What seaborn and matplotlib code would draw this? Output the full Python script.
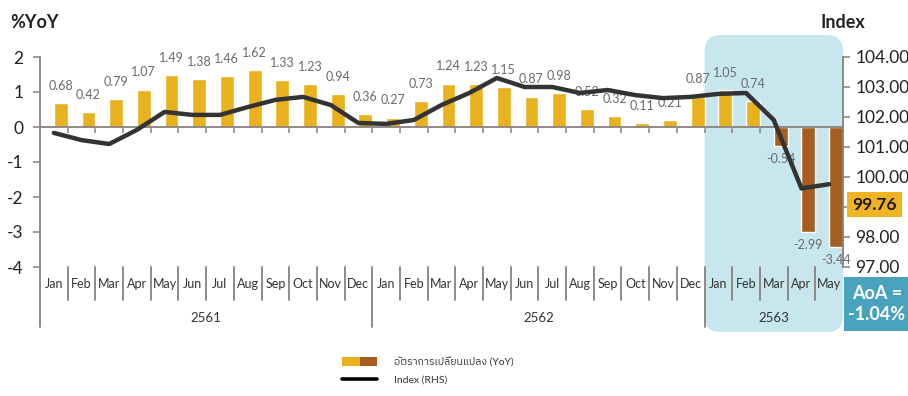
import numpy as np
import pandas as pd
import matplotlib
matplotlib.use("Agg")
import matplotlib.pyplot as plt
import seaborn as sns
from matplotlib import font_manager
from matplotlib.patches import FancyBboxPatch, Rectangle, Patch
from matplotlib.lines import Line2D
from matplotlib.legend_handler import HandlerTuple
from matplotlib.transforms import IdentityTransform, blended_transform_factory

# ---------------- data ----------------
years = ["2561", "2562", "2563"]
months_per_year = [12, 12, 5]
month_names = ["Jan", "Feb", "Mar", "Apr", "May", "Jun",
               "Jul", "Aug", "Sep", "Oct", "Nov", "Dec"]
yoy = [0.68, 0.42, 0.79, 1.07, 1.49, 1.38, 1.46, 1.62, 1.33, 1.23, 0.94, 0.36,
       0.27, 0.73, 1.24, 1.23, 1.15, 0.87, 0.98, 0.52, 0.32, 0.11, 0.21, 0.87,
       1.05, 0.74, -0.54, -2.99, -3.44]
index_vals = [101.47, 101.23, 101.10, 101.57, 102.17, 102.07, 102.07, 102.33,
              102.57, 102.67, 102.40, 101.80,
              101.77, 101.90, 102.40, 102.80, 103.30, 103.00, 103.00, 102.80,
              102.90, 102.73, 102.63, 102.67,
              102.77, 102.80, 101.90, 99.62, 99.76]
left_ticks = [-4, -3, -2, -1, 0, 1, 2]
right_ticks = [97, 98, 99, 100, 101, 102, 103, 104]
right_tick_labels = ["97.00", "98.00", "", "100.00", "101.00", "102.00", "103.00", "104.00"]
last_index_label = "99.76"
aoa_label = "AoA =\n-1.04%"
legend_labels = ["อัตราการเปลี่ยนแปลง (YoY)", "Index (RHS)"]

months = [m for y, k in zip(years, months_per_year) for m in month_names[:k]]
n = len(months)
pos = np.arange(n)

# ---------------- style ----------------
sns.set_theme(style="white")
names = {f.name for f in font_manager.fontManager.ttflist}
thai = [nm for nm in sorted(names) if "Thai" in nm] + \
       [nm for nm in ["Garuda", "Loma", "Waree", "Kinnari", "Norasi", "Sawasdee",
                      "Tlwg Typo", "Umpush", "Laksaman", "TH Sarabun New"] if nm in names]
base = "Lato" if "Lato" in names else "DejaVu Sans"
plt.rcParams["font.family"] = [base] + thai + ["DejaVu Sans"]

POS_C = "#E8B21E"
NEG_C = "#A65D1F"
SPINE_C = "#8A807C"
TXT_C = "#222222"

W, H = 908, 396
fig = plt.figure(figsize=(W / 100, H / 100), dpi=100)
fig.patch.set_facecolor("white")
ax = fig.add_axes([40 / W, 1 - 267 / H, 803 / W, 210 / H])
ax.set_facecolor("none")

df = pd.DataFrame({"x": pos + 0.25, "yoy": yoy,
                   "sign": ["pos" if v >= 0 else "neg" for v in yoy]})
sns.barplot(data=df, x="x", y="yoy", hue="sign", palette={"pos": POS_C, "neg": NEG_C},
            native_scale=True, width=0.5, dodge=False, errorbar=None,
            legend=False, ax=ax, saturation=1)

ax.set_xlim(-0.5, n - 0.5)
ax.set_ylim(-4, 2)
ax.set_yticks(left_ticks)
ax.set_yticklabels([str(t) for t in left_ticks], fontsize=12.5, color=TXT_C)
ax.set_xlabel("")
ax.set_ylabel("")
for s in ["top", "right"]:
    ax.spines[s].set_visible(False)
ax.spines["bottom"].set_position(("data", 0))
ax.spines["bottom"].set_color(SPINE_C)
ax.spines["bottom"].set_linewidth(1.3)
ax.spines["left"].set_color(SPINE_C)
ax.spines["left"].set_linewidth(1.3)
ax.set_xticks(np.arange(n) + 0.5)
ax.set_xticklabels([])
ax.tick_params(axis="x", direction="out", length=4, width=1.1, color=SPINE_C, bottom=True)
ax.tick_params(axis="y", direction="out", length=5, width=1.1, color=SPINE_C, left=True, pad=7)

# value labels
for x, v in zip(pos + 0.25, yoy):
    if v >= 0:
        ax.annotate(f"{v:.2f}", (x, v), xytext=(0, 8), textcoords="offset points",
                    ha="center", va="bottom", fontsize=9, color="#6a6a6a")
    else:
        ax.annotate(f"{v:.2f}", (x, v), xytext=(0, -5), textcoords="offset points",
                    ha="center", va="top", fontsize=9, color="#6a6a6a")

# category labels and separators
tr = blended_transform_factory(ax.transData, ax.transAxes)
for i, m in enumerate(months):
    ax.text(i, -0.081, m, transform=tr, ha="center", va="center", fontsize=9, color="#333333")
year_starts = np.cumsum([0] + months_per_year)
for i in range(1, n):
    is_year = i in year_starts
    ax.plot([i - 0.5, i - 0.5], [0, -0.286 if is_year else -0.157], transform=tr,
            color=SPINE_C, lw=1.3, clip_on=False)
ax.plot([-0.5, -0.5], [0, -0.286], transform=tr, color=SPINE_C, lw=1.3, clip_on=False)
for y, s0, k in zip(years, year_starts[:-1], months_per_year):
    ax.text(s0 + (k - 1) / 2, -0.243, y, transform=tr, ha="center", va="center",
            fontsize=9.5, color="#333333")

# index line on right axis
ax2 = ax.twinx()
sns.lineplot(x=pos, y=index_vals, ax=ax2, color="#333333", lw=3.2, solid_capstyle="round")
ax2.set_ylim(97, 104)
ax2.set_yticks(right_ticks)
ax2.set_yticklabels(right_tick_labels, fontsize=12.5, color=TXT_C)
ax2.tick_params(axis="y", direction="out", length=5, width=1.1, color=SPINE_C, right=True, pad=4)
for s in ["top", "left", "bottom"]:
    ax2.spines[s].set_visible(False)
ax2.spines["right"].set_color(SPINE_C)
ax2.spines["right"].set_linewidth(1.3)
ax2.set_ylabel("")
ax2.set_xlim(-0.5, n - 0.5)

# highlight box for 2563
fig.canvas.draw()
x0 = ax.transData.transform((year_starts[2] - 0.5, 0))[0]
x1 = ax.transData.transform((n - 0.5, 0))[0]
hl = FancyBboxPatch((x0, H - 332), x1 - x0, 332 - 35,
                    boxstyle="round,pad=0,rounding_size=16",
                    transform=IdentityTransform(), fc="#C7E6EE", ec="none", zorder=-1)
fig.patches.append(hl)

# headers
fig.text(10 / W, 1 - 22 / H, "%YoY", ha="left", va="center", fontsize=13,
         fontweight="bold", color=TXT_C)
fig.text(820 / W, 1 - 22 / H, "Index", ha="left", va="center", fontsize=13,
         fontweight="bold", color=TXT_C)

# last value box
fig.patches.append(Rectangle((847 / W, 1 - 217 / H), 55 / W, 25 / H,
                             transform=fig.transFigure, fc="#EFB324", ec="none", zorder=2))
fig.text(874.5 / W, 1 - 205 / H, last_index_label, ha="center", va="center",
         fontsize=12.5, fontweight="bold", color="#1a1a1a", zorder=3)

# AoA box
fig.patches.append(Rectangle((844 / W, 1 - 331 / H), 64 / W, 54 / H,
                             transform=fig.transFigure, fc="#4AA3BE", ec="none", zorder=2))
fig.text(877 / W, 1 - 304 / H, aoa_label, ha="center", va="center", fontsize=13,
         fontweight="bold", color="white", linespacing=1.35, zorder=3)

# legend
handles = [(Patch(fc=POS_C, ec="none"), Patch(fc=NEG_C, ec="none")),
           Line2D([0], [0], color="black", lw=2.6)]
fig.legend(handles, legend_labels, loc="upper left",
           bbox_to_anchor=(342 / W, 1 - 357 / H), frameon=False, fontsize=7.5,
           handler_map={tuple: HandlerTuple(ndivide=None, pad=0)},
           handlelength=3.4, handleheight=0.9, handletextpad=1.6,
           labelspacing=0.7, borderpad=0, borderaxespad=0, labelcolor="#333333")

fig.savefig("out.png", dpi=100)
